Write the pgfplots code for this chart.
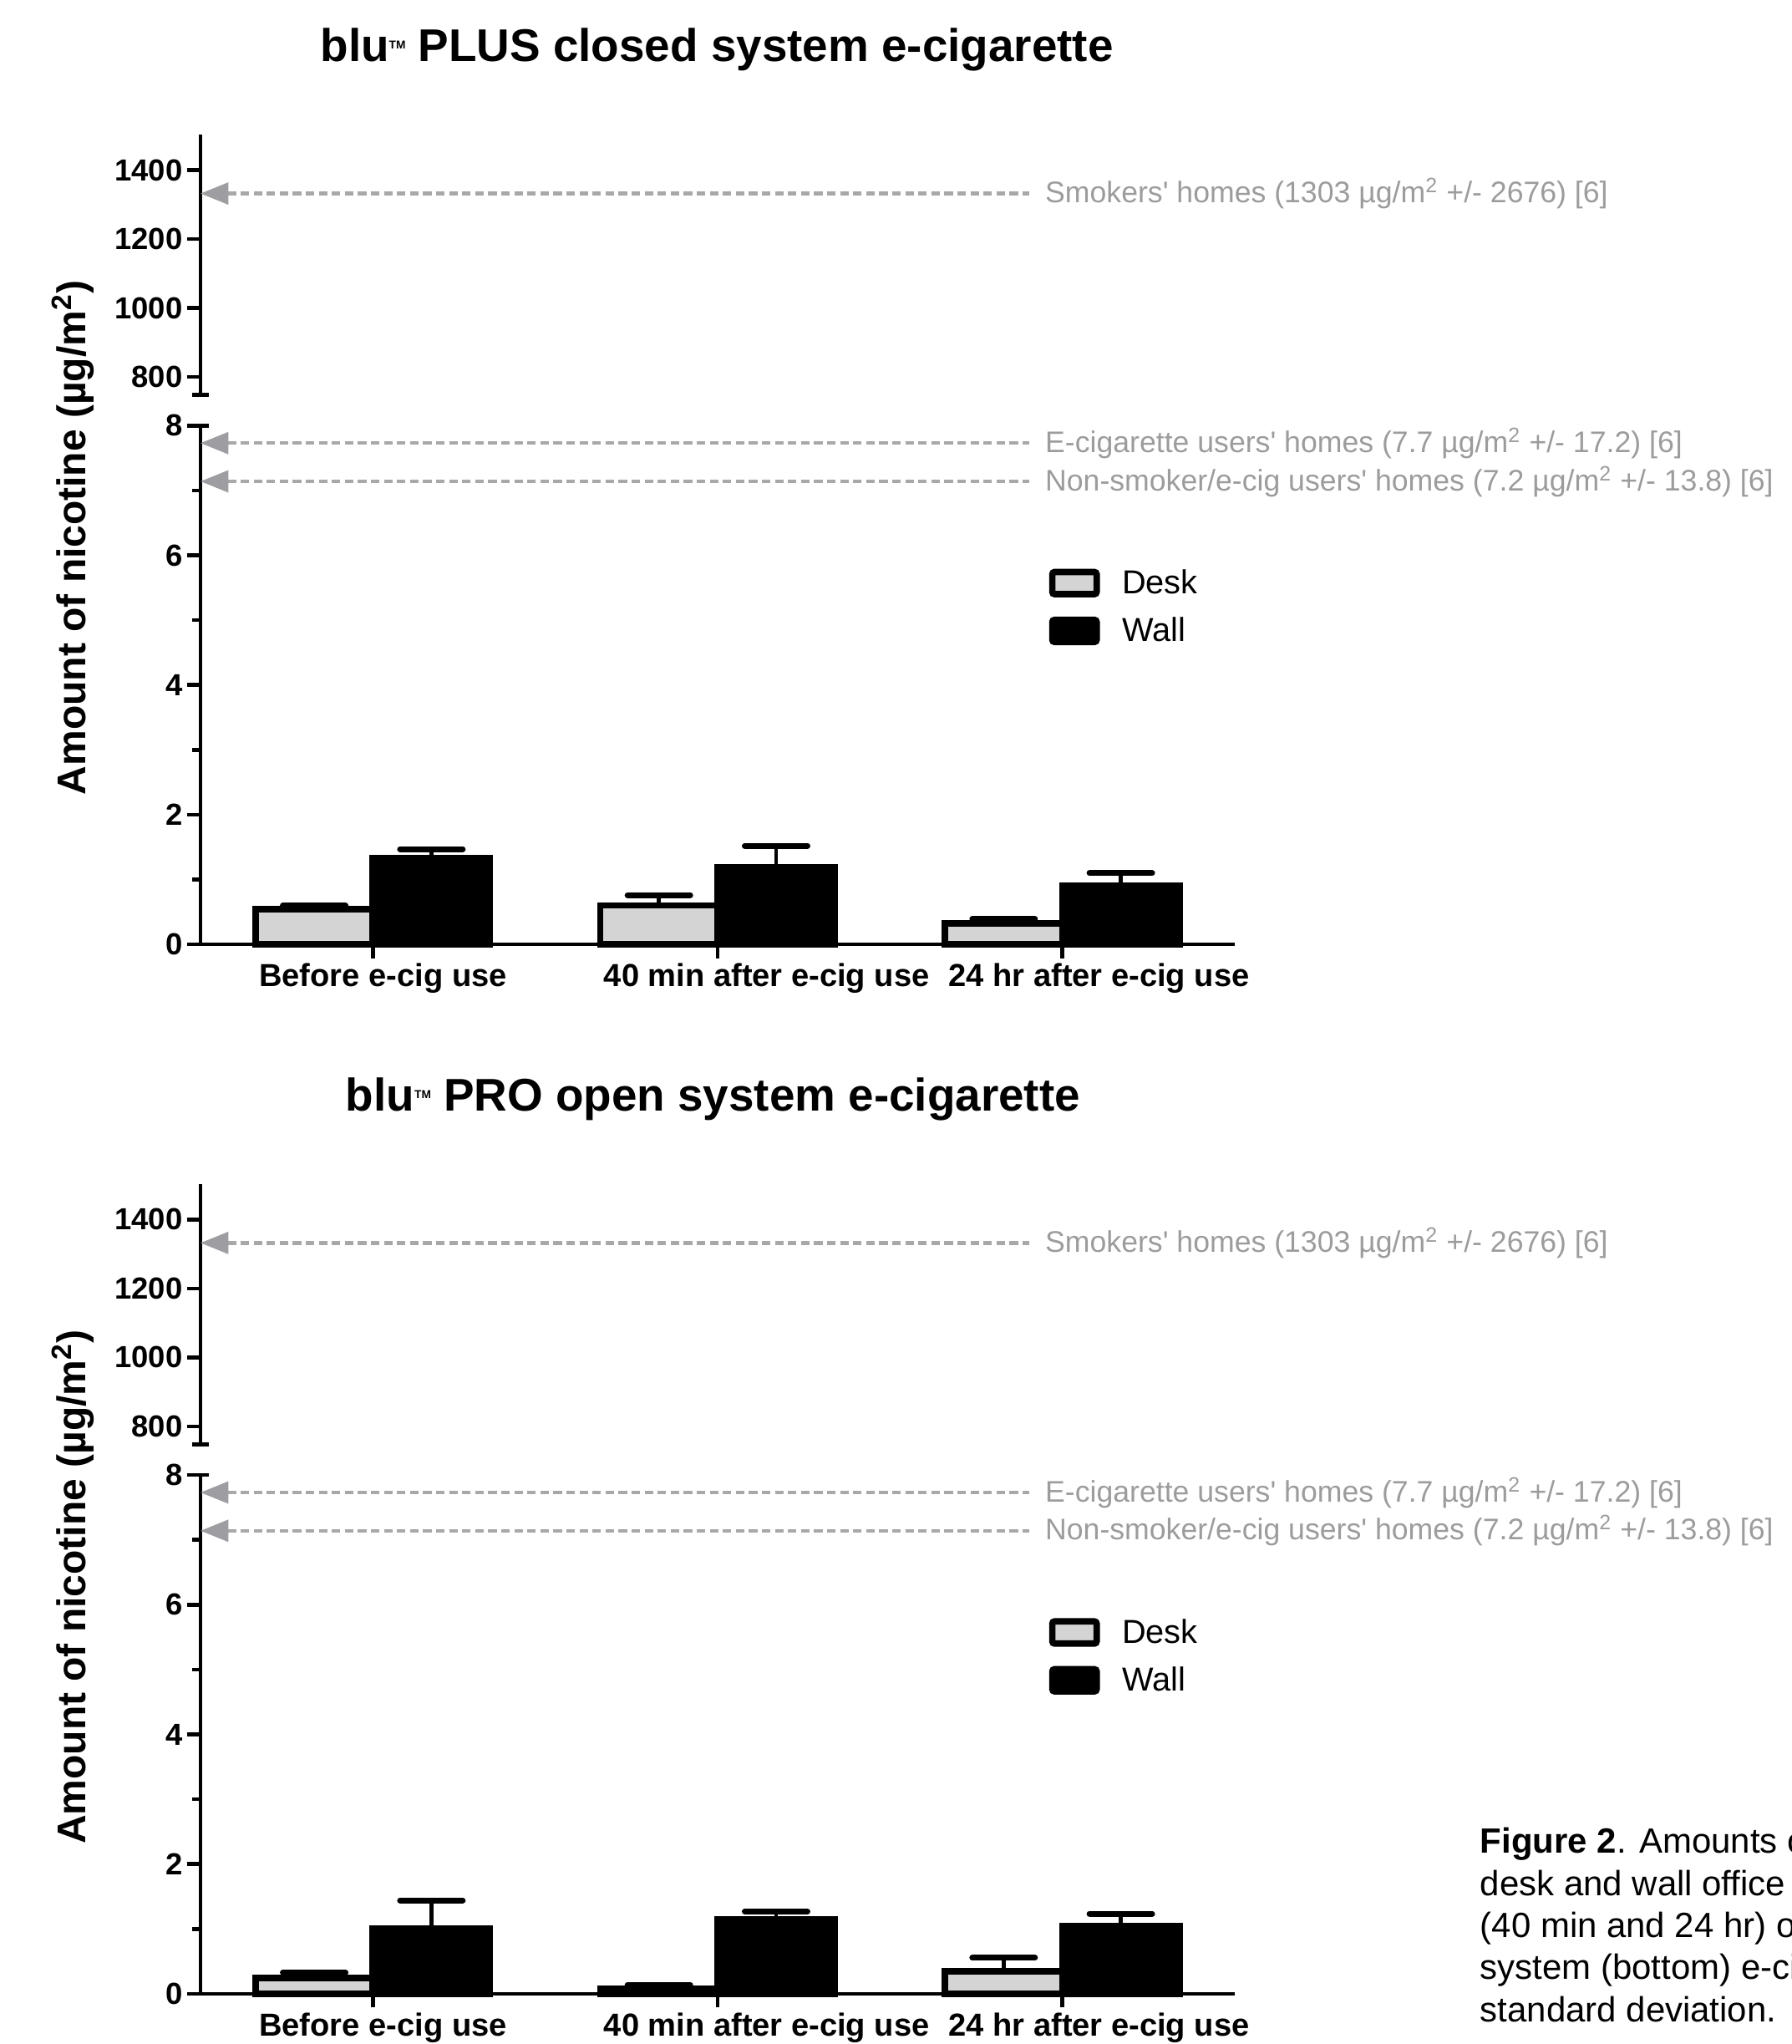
\documentclass[border=0pt]{standalone}
\usepackage{pgfplots}
\pgfplotsset{compat=1.18}
\usetikzlibrary{arrows.meta}
\usepackage{fontspec}
\setmainfont{Liberation Sans}
\definecolor{deskgray}{HTML}{D4D4D4}
\definecolor{reflinec}{HTML}{A8A8A8}
\definecolor{refarrow}{HTML}{9E9EA2}
\definecolor{reftext}{HTML}{9C9C9C}

\tikzset{refn/.style={pos=1, anchor=west, inner sep=0pt, xshift=0.22cm, text=reftext,
    font=\fontsize{13}{15}\selectfont}}

\pgfplotsset{
  common/.style={
    scale only axis, width=15.87cm, xmin=-0.5, xmax=2.5, clip=false,
    axis line style={line width=1.7pt, black, -},
    every tick/.append style={line width=1.7pt, black},
    major tick length=0.21cm, minor tick length=0.13cm,
    tick align=outside,
    /pgf/number format/assume math mode=true,
    /pgf/number format/1000 sep={},
    tick label style={font=\fontsize{13.3}{15}\selectfont\bfseries},
    yticklabel style={inner sep=0pt, xshift=-0.06cm},
  },
  upper/.style={common, height=3.99cm, ymin=748, ymax=1502,
    ytick={800,1000,1200,1400}, hide x axis, axis y line*=left,
    extra y ticks={748}, extra y tick labels={},
    extra y tick style={tick align=center, major tick length=0.26cm}},
  lower/.style={common, height=7.96cm, ymin=0, ymax=8,
    ytick={0,2,4,6,8}, minor ytick={1,3,5,7},
    axis x line*=bottom, axis y line*=left,
    xtick={0,1,2},
    xticklabels={Before e-cig use, 40 min after e-cig use, 24 hr after e-cig use},
    xticklabel style={anchor=north west, inner sep=0pt, xshift=-1.75cm, yshift=-0.08cm,
      font=\fontsize{13.9}{16}\selectfont\bfseries},
    extra y ticks={8}, extra y tick labels={},
    extra y tick style={tick align=inside, major tick length=0.13cm},
    legend style={at={(rel axis cs:0.8207,0.724)}, anchor=north west, draw=none, fill=none,
      inner sep=0pt, outer sep=0pt, row sep=-0.03cm, column sep=0.34cm,
      font=\fontsize{14.5}{17}\selectfont, nodes={inner sep=0pt}},
    legend cell align=left,
  },
  refl/.style={draw=reflinec, line width=1.6pt, dash pattern=on 0.13cm off 0.07cm,
    {Triangle[length=0.43cm, width=0.33cm, fill=refarrow, color=refarrow]}-, forget plot},
  deskbar/.style={ybar, bar width=0.34, bar shift=0, fill=deskgray, draw=black, line width=2.8pt,
    legend image code/.code={\draw[fill=deskgray, draw=black, line width=2.8pt, rounded corners=1pt] (0.05cm,0cm) rectangle (0.73cm,0.34cm);},
    error bars/.cd, y dir=plus, y explicit,
    error bar style={line width=1.8pt, black, solid},
    error mark options={line width=2.6pt, black, mark size=0.48cm, line cap=round, rotate=90}},
  wallbar/.style={ybar, bar width=0.34, bar shift=0, fill=black, draw=black, line width=2.8pt,
    legend image code/.code={\draw[fill=black, draw=black, line width=2.8pt, rounded corners=1pt] (0.05cm,0cm) rectangle (0.73cm,0.34cm);},
    error bars/.cd, y dir=plus, y explicit,
    error bar style={line width=1.8pt, black, solid},
    error mark options={line width=2.6pt, black, mark size=0.48cm, line cap=round, rotate=90}},
}

\begin{document}
\begin{tikzpicture}
\path[use as bounding box] (0,0) rectangle (27.5cm,31.36cm);

% ---------------- Panel 1 ----------------
\begin{axis}[upper, at={(3.076cm,25.30cm)}, anchor=south west]
\addplot[refl] coordinates {(-0.5,1332) (1.904,1332)}
  node[refn] {Smokers\textquotesingle\ homes (1303 µg/m\textsuperscript{2} +/- 2676) [6]};
\end{axis}

\begin{axis}[lower, at={(3.076cm,16.87cm)}, anchor=south west]
\addplot[refl] coordinates {(-0.5,7.73) (1.904,7.73)}
  node[refn] {E-cigarette users\textquotesingle\ homes (7.7 µg/m\textsuperscript{2} +/- 17.2) [6]};
\addplot[refl] coordinates {(-0.5,7.14) (1.904,7.14)}
  node[refn] {Non-smoker/e-cig users\textquotesingle\ homes (7.2 µg/m\textsuperscript{2} +/- 13.8) [6]};
% desk bars at group position - 0.17, wall bars at + 0.17
\addplot[deskbar] coordinates {(-0.17,0.54) +- (0,0.06) (0.83,0.60) +- (0,0.16) (1.83,0.32) +- (0,0.07)};
\addlegendentry{\raisebox{0.327cm}{Desk}}
\addplot[wallbar] coordinates {(0.17,1.33) +- (0,0.14) (1.17,1.19) +- (0,0.33) (2.17,0.90) +- (0,0.20)};
\addlegendentry{\raisebox{0.327cm}{Wall}}
\end{axis}

\node[anchor=base west, inner sep=0pt, font=\fontsize{20}{24}\selectfont\bfseries] at (4.91cm,30.42cm)
  {blu\raisebox{0.19cm}{\fontsize{5}{5}\selectfont TM} PLUS closed system e-cigarette};
\node[rotate=90, anchor=base, inner sep=0pt, font=\fontsize{17.5}{21}\selectfont\bfseries] at (1.32cm,23.11cm)
  {Amount of nicotine (µg/m\textsuperscript{2})};

% ---------------- Panel 2 ----------------
\begin{axis}[upper, at={(3.076cm,9.20cm)}, anchor=south west]
\addplot[refl] coordinates {(-0.5,1332) (1.904,1332)}
  node[refn] {Smokers\textquotesingle\ homes (1303 µg/m\textsuperscript{2} +/- 2676) [6]};
\end{axis}

\begin{axis}[lower, at={(3.076cm,0.77cm)}, anchor=south west]
\addplot[refl] coordinates {(-0.5,7.73) (1.904,7.73)}
  node[refn] {E-cigarette users\textquotesingle\ homes (7.7 µg/m\textsuperscript{2} +/- 17.2) [6]};
\addplot[refl] coordinates {(-0.5,7.14) (1.904,7.14)}
  node[refn] {Non-smoker/e-cig users\textquotesingle\ homes (7.2 µg/m\textsuperscript{2} +/- 13.8) [6]};
\addplot[deskbar] coordinates {(-0.17,0.245) +- (0,0.085) (0.83,0.08) +- (0,0.06) (1.83,0.35) +- (0,0.205)};
\addlegendentry{\raisebox{0.327cm}{Desk}}
\addplot[wallbar] coordinates {(0.17,1.01) +- (0,0.43) (1.17,1.15) +- (0,0.12) (2.17,1.05) +- (0,0.185)};
\addlegendentry{\raisebox{0.327cm}{Wall}}
\end{axis}

\node[anchor=base west, inner sep=0pt, font=\fontsize{20}{24}\selectfont\bfseries] at (5.30cm,14.32cm)
  {blu\raisebox{0.19cm}{\fontsize{5}{5}\selectfont TM} PRO open system e-cigarette};
\node[rotate=90, anchor=base, inner sep=0pt, font=\fontsize{17.5}{21}\selectfont\bfseries] at (1.32cm,7.01cm)
  {Amount of nicotine (µg/m\textsuperscript{2})};

% ---------------- Caption (cut by the page edge, as in the reference) ----------------
\begin{scope}[every node/.style={anchor=base west, inner sep=0pt, font=\fontsize{15.3}{18}\selectfont}]
\node at (22.71cm,2.926cm) {\textbf{Figure 2}. Amounts of nicotine on};
\node at (22.71cm,2.280cm) {desk and wall office surfaces before};
\node at (22.71cm,1.634cm) {(40 min and 24 hr) of e-cigarette use};
\node at (22.71cm,0.990cm) {system (bottom) e-cigarettes. Error bars};
\node at (22.71cm,0.346cm) {standard deviation.};
\end{scope}
\end{tikzpicture}
\end{document}
